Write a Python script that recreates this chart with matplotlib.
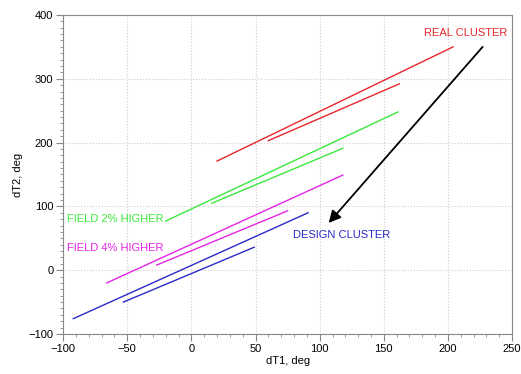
import matplotlib
matplotlib.use("Agg")
import matplotlib.pyplot as plt
from matplotlib.ticker import MultipleLocator
from matplotlib import font_manager

# font: narrow sans if available
names = {f.name for f in font_manager.fontManager.ttflist}
fam = "Liberation Sans Narrow" if "Liberation Sans Narrow" in names else "Liberation Sans"
plt.rcParams['font.family'] = [fam, 'DejaVu Sans']

# line endpoints (dT1, dT2)
red_x1 = [20, 204]
red_y1 = [171, 350]
red_x2 = [60, 162]
red_y2 = [203, 292]
green_x1 = [-20, 161]
green_y1 = [77, 248]
green_x2 = [16, 118]
green_y2 = [105, 191]
mag_x1 = [-66, 118]
mag_y1 = [-20, 149]
mag_x2 = [-27, 75]
mag_y2 = [8, 93]
blue_x1 = [-92, 91]
blue_y1 = [-76, 90]
blue_x2 = [-53, 49]
blue_y2 = [-50, 36]

red = '#e8262c'
green = '#3be83b'
mag = '#e626e6'
blue = '#2a2ac8'

fig = plt.figure(figsize=(5.21, 3.74), dpi=100)
ax = fig.add_axes([0.121, 0.107, 0.862, 0.853])

ax.plot(red_x1, red_y1, color=red, lw=1)
ax.plot(red_x2, red_y2, color=red, lw=1)
ax.plot(green_x1, green_y1, color=green, lw=1)
ax.plot(green_x2, green_y2, color=green, lw=1)
ax.plot(mag_x1, mag_y1, color=mag, lw=1)
ax.plot(mag_x2, mag_y2, color=mag, lw=1)
ax.plot(blue_x1, blue_y1, color=blue, lw=1)
ax.plot(blue_x2, blue_y2, color=blue, lw=1)

ax.annotate('', xy=(107, 74), xytext=(227, 350),
            arrowprops=dict(arrowstyle='-|>', color='black', lw=1.3,
                            mutation_scale=18, shrinkA=0, shrinkB=0))

ax.text(246, 372, 'REAL CLUSTER', color=red, fontsize=8, ha='right', va='center')
ax.text(-97, 80, 'FIELD 2% HIGHER', color=green, fontsize=8, ha='left', va='center')
ax.text(-97, 35, 'FIELD 4% HIGHER', color=mag, fontsize=8, ha='left', va='center')
ax.text(79, 55, 'DESIGN CLUSTER', color=blue, fontsize=8, ha='left', va='center')

ax.set_xlim(-100, 250)
ax.set_ylim(-100, 400)
ax.xaxis.set_major_locator(MultipleLocator(50))
ax.xaxis.set_minor_locator(MultipleLocator(10))
ax.yaxis.set_major_locator(MultipleLocator(100))
ax.yaxis.set_minor_locator(MultipleLocator(10))
ax.grid(True, which='major', color='#cccccc', linestyle=':', lw=0.8)
for s in ax.spines.values():
    s.set_color('#888888')
ax.tick_params(which='major', length=5, color='#888888', labelsize=8, pad=2)
ax.tick_params(which='minor', length=2.5, color='#888888')
ax.set_xlabel('dT1, deg', fontsize=8, labelpad=2)
ax.set_ylabel('dT2, deg', fontsize=8, labelpad=4)

plt.savefig('out.png', dpi=100)
